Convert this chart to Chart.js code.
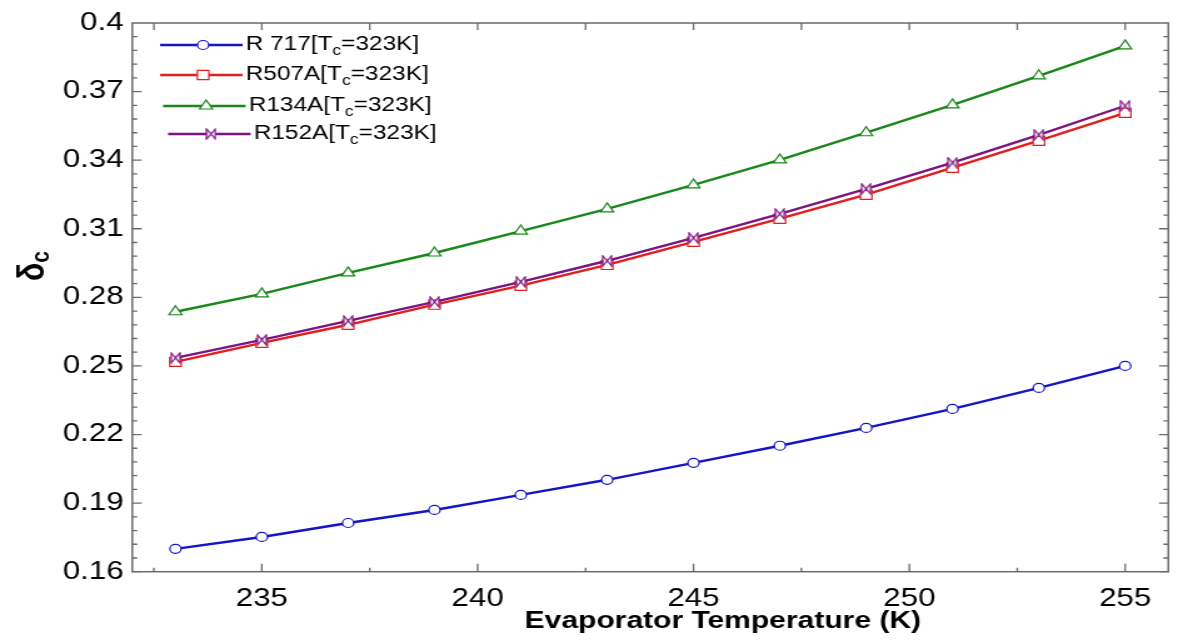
<!DOCTYPE html>
<html>
<head>
<meta charset="utf-8">
<script src="https://cdn.jsdelivr.net/npm/chart.js@4"></script>
<style>
  html, body { margin: 0; padding: 0; background: #fff; overflow: hidden; }
  /* the original figure is stretched sideways, so the chart is drawn narrower and scaled */
  #wrap { width: 942px; height: 643px; transform: scaleX(1.2505); transform-origin: 0 0; }
</style>
</head>
<body>
<div id="wrap"><canvas id="deltaChart"></canvas></div>
<script>
// evaporator temperature (K)
const temps = [233, 235, 237, 239, 241, 243, 245, 247, 249, 251, 253, 255];

// delta_c values
const r717 = [0.1700, 0.1752, 0.1813, 0.1870, 0.1936, 0.2002, 0.2076, 0.2151, 0.2229, 0.2312, 0.2404, 0.2500];
const r507a = [0.2518, 0.2601, 0.2680, 0.2768, 0.2851, 0.2942, 0.3043, 0.3144, 0.3249, 0.3367, 0.3485, 0.3607];
const r134a = [0.2737, 0.2815, 0.2907, 0.2994, 0.3090, 0.3187, 0.3292, 0.3401, 0.3520, 0.3642, 0.3769, 0.3900];
const r152a = [0.2535, 0.2614, 0.2697, 0.2780, 0.2868, 0.2960, 0.3060, 0.3165, 0.3275, 0.3389, 0.3511, 0.3638];

const seriesNames = ['R 717', 'R507A', 'R134A', 'R152A'];
const condTemp = '323K';

const xTickValues = [235, 240, 245, 250, 255];
const xMinorValues = [232.5, 237.5, 242.5, 247.5, 252.5];
const yTickValues = [0.16, 0.19, 0.22, 0.25, 0.28, 0.31, 0.34, 0.37, 0.40];

const FONT = '"Liberation Sans", Arial, sans-serif';
Chart.defaults.font.family = FONT;
Chart.defaults.color = '#000';

const COLORS = {
  blue: 'rgb(20, 20, 200)',
  red: 'rgb(225, 30, 30)',
  green: 'rgb(25, 135, 25)',
  purple: 'rgb(125, 20, 130)'
};

function makeBowtie(color) {
  const c = document.createElement('canvas');
  c.width = 9;
  c.height = 12;
  const g = c.getContext('2d');
  g.lineWidth = 1.2;
  g.strokeStyle = color;
  g.fillStyle = '#fff';
  g.beginPath();
  g.moveTo(1, 1);
  g.lineTo(8, 11);
  g.lineTo(8, 1);
  g.lineTo(1, 11);
  g.closePath();
  g.fill();
  g.stroke();
  return c;
}
const bowtie = makeBowtie(COLORS.purple);

function toPoints(values) {
  return values.map((v, i) => ({ x: temps[i], y: v }));
}

function legendText(name) {
  return name + '[Tc=' + condTemp + ']';
}

const datasets = [
  { label: legendText(seriesNames[0]), data: toPoints(r717), borderColor: COLORS.blue, pointStyle: 'circle', pointRadius: 4.5, order: 3 },
  { label: legendText(seriesNames[1]), data: toPoints(r507a), borderColor: COLORS.red, pointStyle: 'rect', pointRadius: 6.5, order: 1 },
  { label: legendText(seriesNames[2]), data: toPoints(r134a), borderColor: COLORS.green, pointStyle: 'triangle', pointRadius: 6, order: 2 },
  { label: legendText(seriesNames[3]), data: toPoints(r152a), borderColor: COLORS.purple, pointStyle: bowtie, pointRadius: 6, order: 0 }
].map((d, i) => Object.assign(d, {
  name: seriesNames[i],
  borderWidth: 2.4,
  pointBackgroundColor: '#fff',
  pointBorderColor: d.borderColor,
  pointBorderWidth: 1.2,
  tension: 0
}));

function drawMarker(ctx, style, x, y, r, color) {
  ctx.save();
  ctx.strokeStyle = color;
  ctx.fillStyle = '#fff';
  ctx.lineWidth = 1.2;
  ctx.beginPath();
  if (style === 'circle') {
    ctx.arc(x, y, r, 0, Math.PI * 2);
  } else if (style === 'rect') {
    const s = r * Math.SQRT1_2;
    ctx.rect(x - s, y - s, 2 * s, 2 * s);
  } else if (style === 'triangle') {
    ctx.moveTo(x, y - r);
    ctx.lineTo(x + r * Math.sin(Math.PI / 3), y + r / 2);
    ctx.lineTo(x - r * Math.sin(Math.PI / 3), y + r / 2);
    ctx.closePath();
  } else {
    ctx.drawImage(style, x - style.width / 2, y - style.height / 2);
    ctx.restore();
    return;
  }
  ctx.fill();
  ctx.stroke();
  ctx.restore();
}

// legend with subscript c, drawn inside the plot
const legendPlugin = {
  id: 'subLegend',
  afterDatasetsDraw(chart) {
    const ctx = chart.ctx;
    const rows = [45, 75, 106, 134];
    const shift = [0, 0, 2.4, 6.4];
    chart.data.datasets.forEach((ds, i) => {
      const y = rows[i];
      const x0 = 128 + shift[i];
      ctx.save();
      ctx.strokeStyle = ds.borderColor;
      ctx.lineWidth = ds.borderWidth;
      ctx.beginPath();
      ctx.moveTo(x0, y);
      ctx.lineTo(x0 + 66, y);
      ctx.stroke();
      ctx.restore();
      drawMarker(ctx, ds.pointStyle, x0 + 34.4, y, ds.pointRadius, ds.borderColor);

      ctx.save();
      ctx.fillStyle = '#000';
      ctx.textBaseline = 'middle';
      ctx.textAlign = 'left';
      let x = x0 + 68.5;
      ctx.font = '19.5px ' + FONT;
      const head = ds.name + '[T';
      ctx.fillText(head, x, y);
      x += ctx.measureText(head).width;
      ctx.font = '14px ' + FONT;
      ctx.fillText('c', x, y + 6);
      x += ctx.measureText('c').width;
      ctx.font = '19.5px ' + FONT;
      ctx.fillText('=' + condTemp + ']', x, y);
      ctx.restore();
    });
  }
};

// box around the plot with inward ticks on all four sides, plus axis titles
const framePlugin = {
  id: 'frame',
  afterDraw(chart) {
    const { ctx, chartArea: a, scales } = chart;
    const xs = scales.x, ys = scales.y;
    ctx.save();
    ctx.strokeStyle = '#6b6b6b';
    ctx.lineWidth = 1.5;
    ctx.strokeRect(a.left, a.top, a.right - a.left, a.bottom - a.top);

    ctx.lineWidth = 1.3;
    ctx.beginPath();
    xTickValues.concat(xMinorValues).forEach(v => {
      const px = xs.getPixelForValue(v);
      const major = xTickValues.includes(v);
      ctx.moveTo(px, a.bottom);
      ctx.lineTo(px, a.bottom - (major ? 8 : 4));
      ctx.moveTo(px, a.top);
      ctx.lineTo(px, a.top + 7);
    });
    for (let i = 0; i < yTickValues.length - 1; i++) {
      const step = (yTickValues[i + 1] - yTickValues[i]) / 5;
      for (let k = 0; k < 5; k++) {
        const py = ys.getPixelForValue(yTickValues[i] + k * step);
        const len = k === 0 ? 7.5 : 4;
        ctx.moveTo(a.left, py);
        ctx.lineTo(a.left + len, py);
        ctx.moveTo(a.right, py);
        ctx.lineTo(a.right - len, py);
      }
    }
    ctx.stroke();
    ctx.restore();

    ctx.save();
    ctx.fillStyle = '#000';
    ctx.textAlign = 'center';
    ctx.textBaseline = 'alphabetic';
    ctx.font = 'bold 24px ' + FONT;
    ctx.fillText('Evaporator Temperature (K)', 578, 628);

    ctx.translate(24, 266);
    ctx.rotate(-Math.PI / 2);
    ctx.textAlign = 'left';
    ctx.font = 'bold 30px ' + FONT;
    const wd = ctx.measureText('δ').width;
    ctx.font = 'bold 21px ' + FONT;
    const wc = ctx.measureText('c').width;
    const start = -(wd + wc) / 2;
    ctx.font = 'bold 30px ' + FONT;
    ctx.fillText('δ', start, 11);
    ctx.font = 'bold 21px ' + FONT;
    ctx.fillText('c', start + wd, 15);
    ctx.restore();
  }
};

const context = document.getElementById('deltaChart');
const config = {
  type: 'line',
  data: { datasets: datasets },
  options: {
    responsive: true,
    maintainAspectRatio: false,
    animation: false,
    events: [],
    layout: { padding: { top: 23, right: 3, left: 0, bottom: 0 } },
    plugins: {
      legend: { display: false },
      tooltip: { enabled: false },
      title: { display: false }
    },
    scales: {
      x: {
        type: 'linear',
        min: 232,
        max: 256,
        grid: { display: false, drawTicks: false },
        border: { display: false },
        afterBuildTicks: scale => { scale.ticks = xTickValues.map(v => ({ value: v })); },
        afterFit: scale => { scale.height = 71.3; },
        ticks: {
          autoSkip: false,
          maxRotation: 0,
          padding: 12,
          font: { size: 25 },
          color: '#000'
        }
      },
      y: {
        type: 'linear',
        min: 0.16,
        max: 0.40,
        grid: { display: false, drawTicks: false },
        border: { display: false },
        afterBuildTicks: scale => { scale.ticks = yTickValues.map(v => ({ value: v })); },
        afterFit: scale => { scale.width = 105.8; },
        ticks: {
          autoSkip: false,
          padding: 7,
          font: { size: 25 },
          color: '#000',
          callback: v => String(parseFloat(v.toFixed(2)))
        }
      }
    }
  },
  plugins: [legendPlugin, framePlugin]
};
new Chart(context, config);
</script>
</body>
</html>
